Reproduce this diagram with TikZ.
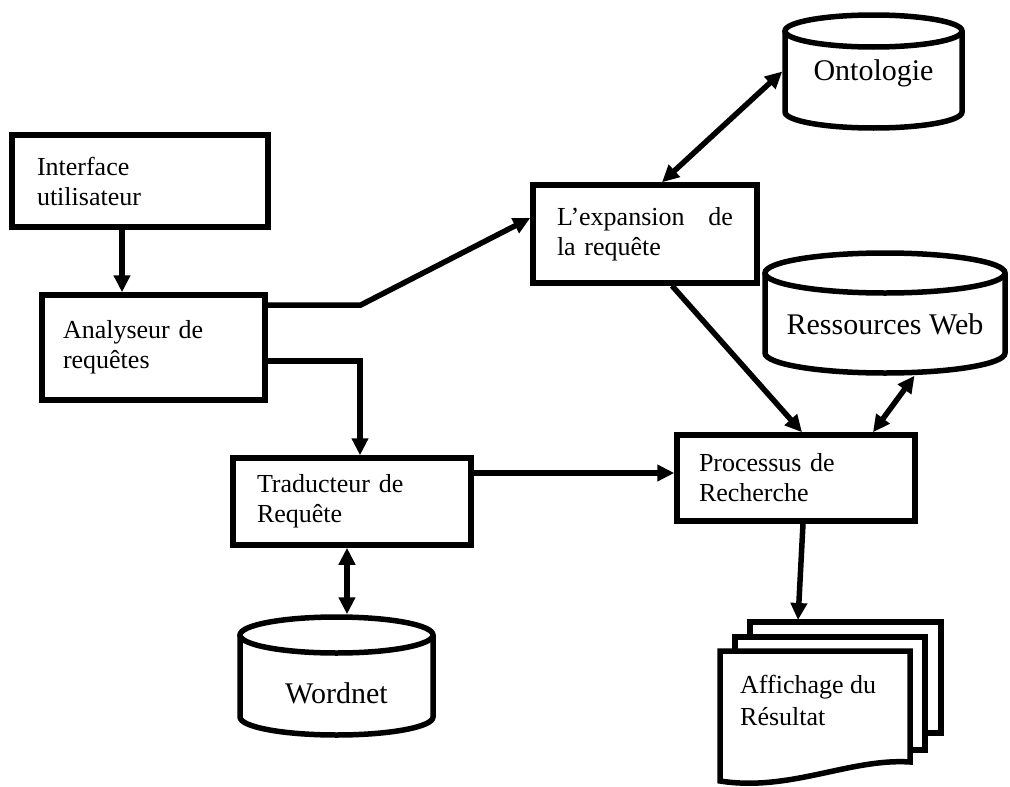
\documentclass[tikz,border=0pt]{standalone}
\usepackage{fontspec}
\setmainfont{Liberation Serif}
\usetikzlibrary{arrows.meta}

% cylinder drawn from its left, top, right, bottom edges and the ellipse y radius
\newcommand\drawdrum[5]{%
  \pgfmathsetmacro\drumcx{(#1+#3)/2}%
  \pgfmathsetmacro\drumrx{(#3-#1)/2}%
  \draw[lw, fill=white] (#1,#2+#5) -- (#1,#4-#5)
    arc[start angle=180, end angle=360, x radius=\drumrx pt, y radius=#5 pt]
    -- (#3,#2+#5);
  \draw[lw, fill=white] (\drumcx,#2+#5) ellipse[x radius=\drumrx pt, y radius=#5 pt];
}

\begin{document}
\begin{tikzpicture}[x=1pt, y=-1pt,
  lw/.style={line width=5.5pt},
  box/.style={draw, lw, rectangle, align=left, inner ysep=0pt,
    font=\fontsize{26}{30}\selectfont},
  drumtext/.style={rectangle, lw, inner sep=0pt, text depth=7pt,
    font=\fontsize{30}{34}\selectfont},
  arr/.style={lw, -{Triangle[length=17pt, width=16pt]}},
  darr/.style={lw, {Triangle[length=17pt, width=16pt]}-{Triangle[length=17pt, width=16pt]}},
  page/.style={draw, lw, fill=white}
]
\useasboundingbox (0,0) rectangle (1010,787);

% databases
\drawdrum{785}{15}{962}{128}{16}
\drawdrum{765}{253}{1005}{373}{20}
\drawdrum{240}{617}{433}{735}{18}

\node[drumtext, minimum width=177pt, minimum height=113pt, text height=24pt]
  (onto) at (873.5,71.5) {Ontologie};
\node[drumtext, minimum width=240pt, minimum height=120pt, text height=49pt]
  (ress) at (885,313) {Ressources Web};
\node[drumtext, minimum width=193pt, minimum height=118pt, text height=61pt]
  (word) at (336.5,676) {Wordnet};

% processing steps
\node[box, minimum width=256pt, minimum height=92pt, inner xsep=25pt, text width=206pt]
  (iface) at (140,181) {Interface\\utilisateur};
\node[box, minimum width=223pt, minimum height=105pt, inner xsep=21pt, text width=181pt]
  (anal) at (153.5,347.5) {Analyseur de\\requêtes};
\node[box, minimum width=238pt, minimum height=87pt, inner xsep=24pt, text width=190pt]
  (trad) at (352,501.5) {Traducteur de\\Requête};
\node[box, minimum width=224pt, minimum height=98pt, inner xsep=24pt, text width=176pt]
  (expan) at (645,234) {L’expansion\hfill de\\la requête};
\node[box, minimum width=238pt, minimum height=86pt, inner xsep=22pt, text width=194pt]
  (proc) at (796,478) {Processus de\\Recherche};

% stack of result pages
\draw[page] (750,622) rectangle (941,733);
\draw[page] (735,637) rectangle (925,750);
\draw[page] (720,651) -- (910,651) -- (910,762)
  .. controls (850,758) and (790,792) .. (720,781) -- cycle;
\node[align=left, inner sep=0pt, anchor=north west, font=\fontsize{26}{32}\selectfont]
  (affich) at (740,675) {Affichage du\\Résultat};
\coordinate (pagetop) at (798,620);

% connectors
\draw[arr] ([xshift=-18pt]iface.south) -- ([xshift=-31.5pt]anal.north);
\draw[arr] ([yshift=42.5pt]anal.east) -- ++(93,0) -- ([yshift=16pt]expan.west);
\draw[arr] ([yshift=-13.5pt]anal.east) -| ([xshift=8pt]trad.north);
\draw[arr] ([yshift=28.5pt]trad.east) -- ([yshift=5pt]proc.west);
\draw[darr] ([xshift=-5pt]trad.south) -- ([xshift=10.5pt]word.north);
\draw[darr] ([xshift=17pt]expan.north) -- (onto.west);
\draw[arr] ([xshift=27pt]expan.south) -- ([xshift=6pt]proc.north);
\draw[darr] ([xshift=29.5pt]ress.south) -- ([xshift=77pt]proc.north);
\draw[arr] ([xshift=7pt]proc.south) -- (pagetop);
\end{tikzpicture}
\end{document}
